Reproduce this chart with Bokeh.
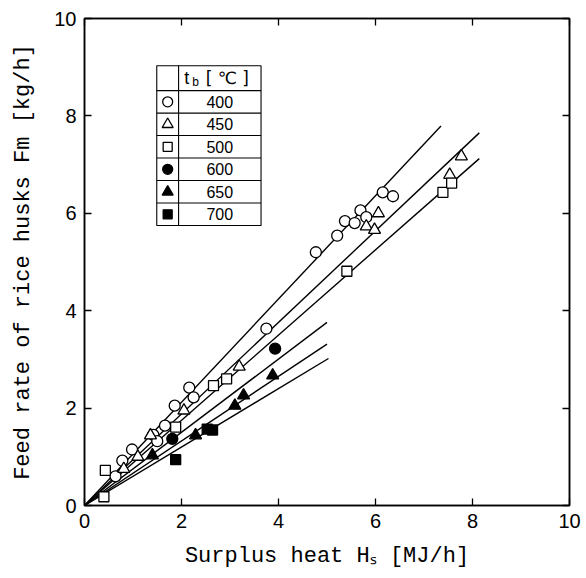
from bokeh.plotting import figure
from bokeh.models import LinearAxis, FixedTicker, Range1d
from bokeh.core.properties import value
from bokeh.embed import file_html
from bokeh.resources import INLINE

# ---- data ----
hs_400 = [0.64, 0.78, 0.98, 1.42, 1.50, 1.66, 1.86, 2.16, 2.25, 3.75, 4.77, 5.21, 5.37, 5.57, 5.69, 5.81, 6.15, 6.36]
fm_400 = [0.60, 0.92, 1.15, 1.45, 1.32, 1.64, 2.05, 2.42, 2.22, 3.63, 5.20, 5.54, 5.84, 5.80, 6.06, 5.92, 6.43, 6.35]
hs_450 = [0.81, 1.10, 1.36, 2.05, 3.19, 5.81, 5.98, 6.06, 7.53, 7.77]
fm_450 = [0.75, 1.00, 1.44, 1.95, 2.85, 5.73, 5.66, 6.00, 6.79, 7.17]
hs_500 = [0.40, 0.43, 1.88, 2.66, 2.93, 5.41, 7.39, 7.57]
fm_500 = [0.18, 0.72, 1.61, 2.46, 2.60, 4.81, 6.43, 6.62]
hs_600 = [1.81, 3.93]
fm_600 = [1.37, 3.22]
hs_650 = [1.40, 2.29, 3.10, 3.28, 3.88]
fm_650 = [1.03, 1.44, 2.05, 2.26, 2.67]
hs_700 = [1.88, 2.53, 2.64]
fm_700 = [0.94, 1.57, 1.55]

temps = ["400", "450", "500", "600", "650", "700"]
fit_slopes = [1.06, 0.94, 0.875, 0.752, 0.663, 0.60]
fit_end_x = [7.35, 8.14, 8.14, 5.0, 5.0, 5.03]

ticks = [0, 2, 4, 6, 8, 10]

series = [
    (hs_400, fm_400, "circle", "white", 11),
    (hs_450, fm_450, "triangle", "white", 12),
    (hs_500, fm_500, "square", "white", 10),
    (hs_600, fm_600, "circle", "black", 11),
    (hs_650, fm_650, "triangle", "black", 12),
    (hs_700, fm_700, "square", "black", 10),
]

AX_FONT = "Liberation Mono"
TICK_FONT = "Liberation Sans"

p = figure(width=586, height=578, x_range=Range1d(0, 10), y_range=Range1d(0, 10),
           output_backend="svg", toolbar_location=None)
p.min_border_left = 84
p.min_border_right = 17
p.min_border_top = 18
p.min_border_bottom = 73
p.xgrid.visible = False
p.ygrid.visible = False
p.outline_line_color = "black"
p.outline_line_width = 1.5
p.background_fill_color = "white"
p.border_fill_color = "white"

def style_axis(ax, labels=True):
    ax.ticker = FixedTicker(ticks=ticks)
    ax.axis_line_color = "black"
    ax.axis_line_width = 1.5
    ax.major_tick_in = 7
    ax.major_tick_out = 0
    ax.major_tick_line_width = 1.3
    ax.minor_tick_line_color = None
    if labels:
        ax.major_label_text_font = TICK_FONT
        ax.major_label_text_font_size = "20px"
        ax.major_label_text_color = "black"
        ax.major_label_standoff = 8
        ax.axis_label_text_font = AX_FONT
        ax.axis_label_text_font_size = "22px"
        ax.axis_label_text_font_style = "normal"
        ax.axis_label_text_color = "black"
    else:
        ax.major_label_overrides = {t: "" for t in ticks}
        ax.major_label_standoff = 0
        ax.major_label_text_font_size = "1px"

xa = p.xaxis[0]
ya = p.yaxis[0]
style_axis(xa)
style_axis(ya)
xa.axis_label = "Surplus heat H\u209b [MJ/h]"
ya.axis_label = "Feed rate of rice husks Fm [kg/h]"
xa.axis_label_standoff = 13
ya.axis_label_standoff = 15

top_ax = LinearAxis()
right_ax = LinearAxis()
style_axis(top_ax, labels=False)
style_axis(right_ax, labels=False)
p.add_layout(top_ax, "above")
p.add_layout(right_ax, "right")

# fitted lines through the origin
for s, xe in zip(fit_slopes, fit_end_x):
    p.line([0, xe], [0, s * xe], line_color="black", line_width=1.4)

# data markers
for xs, ys, m, fill, sz in series:
    p.scatter(xs, ys, marker=m, size=sz, fill_color=fill, line_color="black", line_width=1.3)

# ---- legend table ----
LX0, LXM, LX1 = 1.49, 1.94, 3.64
LTOP = 9.03
LHEAD = 0.51
LROW = 0.462
nrow = len(temps)
lbot = LTOP - LHEAD - nrow * LROW
p.quad(left=[LX0], right=[LX1], bottom=[lbot], top=[LTOP], fill_color="white",
       line_color="black", line_width=1.1)
p.segment(x0=[LXM], y0=[lbot], x1=[LXM], y1=[LTOP], line_color="black", line_width=1.1)
hy = [LTOP - LHEAD - i * LROW for i in range(nrow)]
p.segment(x0=[LX0] * nrow, y0=hy, x1=[LX1] * nrow, y1=hy, line_color="black", line_width=1.1)

row_y = [LTOP - LHEAD - (i + 0.5) * LROW for i in range(nrow)]
mk_x = (LX0 + LXM) / 2
for (xs, ys, m, fill, sz), ry in zip(series, row_y):
    p.scatter([mk_x], [ry], marker=m, size=sz - 1, fill_color=fill, line_color="black", line_width=1.3)
p.text(x=[(LXM + LX1) / 2] * nrow, y=row_y, text=temps, text_font=value(TICK_FONT),
       text_font_size="16px", text_align="center", text_baseline="middle", text_color="black")

hy_c = LTOP - LHEAD / 2
p.text(x=[2.11], y=[hy_c], text=["t"], text_font=value(TICK_FONT), text_font_size="18px",
       text_align="center", text_baseline="middle", text_color="black")
p.text(x=[2.29], y=[hy_c - 0.08], text=["b"], text_font=value(TICK_FONT), text_font_size="12px",
       text_align="center", text_baseline="middle", text_color="black")
p.text(x=[2.50], y=[hy_c], text=["[ \u2103 ]"], text_font=value("DejaVu Sans"), text_font_size="17px",
       text_align="left", text_baseline="middle", text_color="black")

open("out.html", "w").write(file_html(p, INLINE))
